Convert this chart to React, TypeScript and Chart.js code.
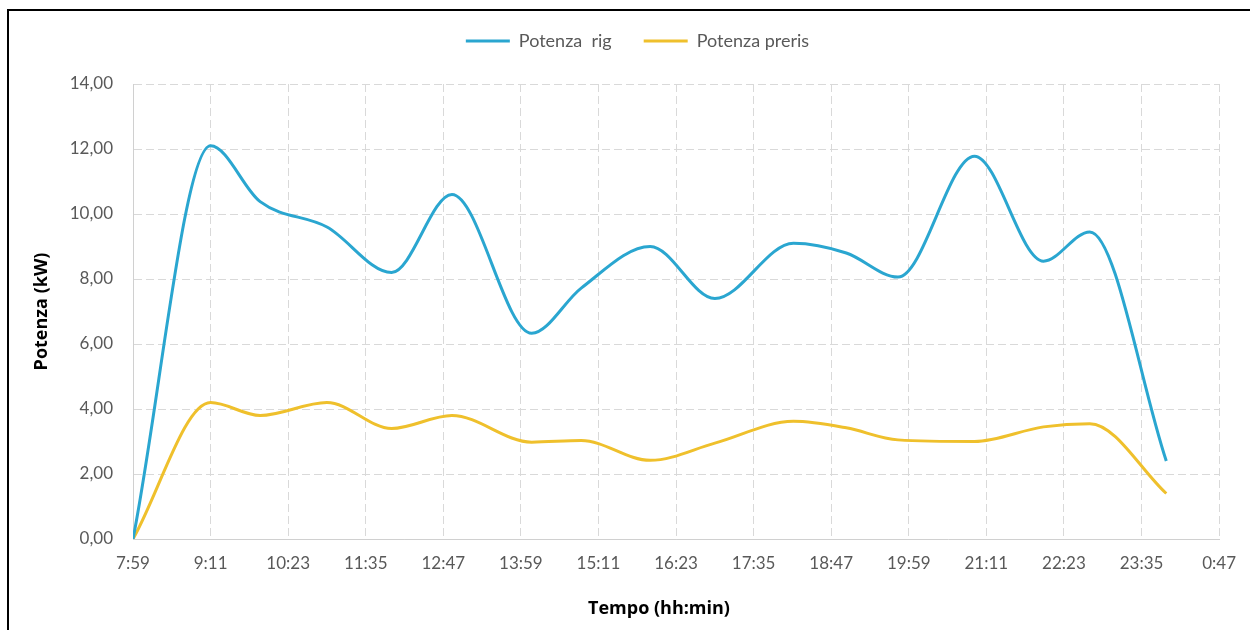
import React, { useEffect, useRef } from "react";
import { Chart, registerables } from "chart.js";

Chart.register(...registerables);

// ---- Data ----
const startTime = "7:59";
const tickLabels = [
  "7:59", "9:11", "10:23", "11:35", "12:47", "13:59", "15:11", "16:23",
  "17:35", "18:47", "19:59", "21:11", "22:23", "23:35", "0:47",
];
const sampleTimes = [
  "7:59", "9:11", "9:57", "10:59", "11:59", "12:55", "14:09", "14:55",
  "15:59", "16:59", "18:12", "19:01", "19:49", "21:00", "22:04", "22:47", "23:58",
];
const potenzaRig = [
  0, 12.1, 10.38, 9.6, 8.2, 10.6, 6.33, 7.72, 9.0, 7.4, 9.1, 8.8, 8.06, 11.78, 8.55, 9.45, 2.4,
];
const potenzaPreris = [
  0, 4.2, 3.8, 4.2, 3.4, 3.8, 2.98, 3.03, 2.42, 2.95, 3.62, 3.42, 3.05, 3.0, 3.45, 3.55, 1.4,
];
const yTicks = [0, 2, 4, 6, 8, 10, 12, 14];
const xTitle = "Tempo (hh:min)";
const yTitle = "Potenza (kW)";

const toMin = (t: string) => {
  const [h, m] = t.split(":").map(Number);
  return h * 60 + m;
};
const offsetOf = (t: string) => {
  let d = toMin(t) - toMin(startTime);
  if (d < 0) d += 1440;
  return d;
};
const tickStep = offsetOf(tickLabels[1]);
const xMax = tickStep * (tickLabels.length - 1);

const FONT = "Lato, 'Open Sans', sans-serif";
const TITLE_FONT = "'Open Sans', Lato, sans-serif";
const BLUE = "#2aa6d0";
const YELLOW = "#efc02c";

const layoutTweaks = {
  id: "layoutTweaks",
  beforeInit(chart: any) {
    const lg = chart.legend;
    if (lg) {
      const orig = lg.fit;
      lg.fit = function () {
        orig.call(this);
        this.height = 84;
      };
    }
  },
  afterLayout(chart: any) {
    const lg = chart.legend;
    if (lg) {
      lg.left += 27;
      lg.right += 27;
    }
  },
  afterDraw(chart: any) {
    const ctx = chart.ctx;
    ctx.save();
    ctx.fillStyle = "#000";
    ctx.font = `bold 18px ${TITLE_FONT}`;
    ctx.textAlign = "center";
    ctx.textBaseline = "middle";
    ctx.fillText(xTitle, 659, 609);
    ctx.restore();
  },
};

export default function App() {
  const ref = useRef<HTMLCanvasElement | null>(null);

  useEffect(() => {
    if (!ref.current) return;
    const rig = sampleTimes.map((t, i) => ({ x: offsetOf(t), y: potenzaRig[i] }));
    const pre = sampleTimes.map((t, i) => ({ x: offsetOf(t), y: potenzaPreris[i] }));

    const chart = new Chart(ref.current, {
      type: "line",
      data: {
        datasets: [
          {
            label: "Potenza  rig",
            data: rig,
            borderColor: BLUE,
            backgroundColor: BLUE,
            borderWidth: 3,
            pointRadius: 0,
            cubicInterpolationMode: "monotone",
            fill: false,
          },
          {
            label: "Potenza preris",
            data: pre,
            borderColor: YELLOW,
            backgroundColor: YELLOW,
            borderWidth: 3,
            pointRadius: 0,
            cubicInterpolationMode: "monotone",
            fill: false,
          },
        ],
      },
      options: {
        animation: false,
        responsive: false,
        maintainAspectRatio: false,
        layout: { padding: { left: 0, right: 29, top: 0, bottom: 0 } },
        plugins: {
          legend: {
            position: "top",
            labels: {
              usePointStyle: true,
              pointStyle: "line",
              pointStyleWidth: 44,
              boxHeight: 3,
              padding: 32,
              color: "#595959",
              font: { family: FONT, size: 18 },
            },
          },
          tooltip: { enabled: false },
        },
        scales: {
          x: {
            type: "linear",
            min: 0,
            max: xMax,
            afterFit: (s: any) => {
              s.height = 91;
            },
            afterBuildTicks: (s: any) => {
              s.ticks = tickLabels.map((_, i) => ({ value: i * tickStep }));
            },
            ticks: {
              padding: 14,
              color: "#595959",
              font: { family: FONT, size: 17 },
              maxRotation: 0,
              autoSkip: false,
              callback: (v: any) => tickLabels[Math.round(Number(v) / tickStep)] ?? "",
            },
            grid: { color: "#d9d9d9", lineWidth: 1, drawTicks: false },
            border: { display: true, color: "#d0d0d0", width: 1, dash: [8, 4] },
            title: { display: false },
          },
          y: {
            type: "linear",
            min: 0,
            max: 14,
            afterFit: (s: any) => {
              s.width = 133;
            },
            afterBuildTicks: (s: any) => {
              s.ticks = yTicks.map((v) => ({ value: v }));
            },
            ticks: {
              padding: 20,
              color: "#595959",
              font: { family: FONT, size: 17 },
              callback: (v: any) => Number(v).toFixed(2).replace(".", ","),
            },
            grid: { color: "#d9d9d9", lineWidth: 1, drawTicks: false },
            border: { display: true, color: "#d0d0d0", width: 1, dash: [8, 4] },
            title: {
              display: true,
              text: yTitle,
              color: "#000000",
              font: { family: TITLE_FONT, size: 18, weight: "bold" },
              padding: { top: 31, bottom: 0 },
            },
          },
        },
      },
      plugins: [layoutTweaks],
    } as any);
    return () => chart.destroy();
  }, []);

  return (
    <div style={{ position: "absolute", left: 0, top: 0, width: 1250, height: 630, overflow: "hidden", background: "#fff" }}>
      <div
        style={{
          position: "absolute",
          left: 7,
          top: 9,
          width: 1300,
          height: 700,
          borderTop: "2px solid #000",
          borderLeft: "2px solid #000",
        }}
      />
      <canvas
        ref={ref}
        width={1250}
        height={630}
        style={{ position: "absolute", left: 0, top: 0, width: 1250, height: 630 }}
      />
    </div>
  );
}
